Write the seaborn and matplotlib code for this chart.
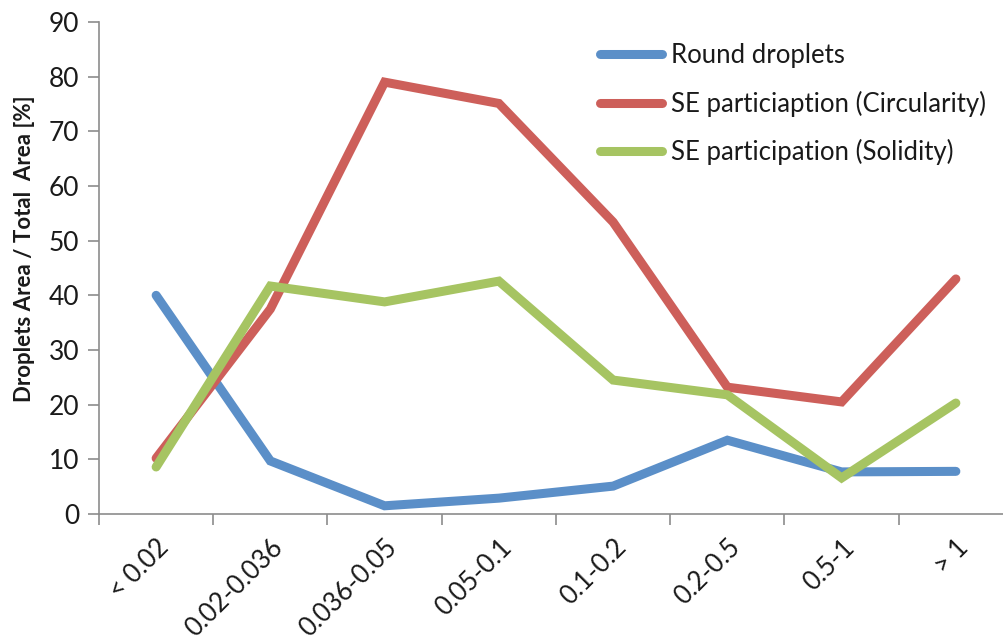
import matplotlib

matplotlib.use("Agg")
import matplotlib.pyplot as plt
import numpy as np
import pandas as pd
import seaborn as sns

# Valores
size_classes = ["< 0.02", "0.02-0.036", "0.036-0.05", "0.05-0.1",
                "0.1-0.2", "0.2-0.5", "0.5-1", "> 1"]
round_droplets = [40.0, 9.7, 1.5, 2.9, 5.1, 13.5, 7.7, 7.8]
se_circularity = [10.2, 37.5, 79.0, 75.1, 53.4, 23.2, 20.5, 43.0]
se_solidity = [8.6, 41.7, 38.8, 42.6, 24.5, 21.8, 6.6, 20.3]

series_names = ["Round droplets", "SE particiaption (Circularity)",
                "SE participation (Solidity)"]
series_colors = ["#5b8fc8", "#cd5f5a", "#a6c462"]

df = pd.DataFrame({
    "size": size_classes * 3,
    "pos": list(range(len(size_classes))) * 3,
    "value": round_droplets + se_circularity + se_solidity,
    "series": np.repeat(series_names, len(size_classes)),
})

sns.set_style("white")
plt.rcParams["font.family"] = ["Lato", "DejaVu Sans"]

W, H = 1004, 639
fig = plt.figure(figsize=(W / 100, H / 100), dpi=100)
ax = fig.add_axes([99 / W, 125 / H, 914 / W, 492 / H])

sns.lineplot(data=df, x="pos", y="value", hue="series", hue_order=series_names,
             palette=series_colors, linewidth=6.5, ax=ax, sort=False,
             solid_capstyle="round", solid_joinstyle="miter")

ax.set_xlim(-0.5, len(size_classes) - 0.5)
ax.set_ylim(0, 90)
ax.set_yticks(range(0, 91, 10))
ax.tick_params(axis="y", labelsize=19, length=8, width=1.2, color="#8c8c8c",
               direction="out", pad=6, left=True, labelcolor="#1a1a1a")
ax.set_xticks(range(len(size_classes)))
ax.set_xticklabels(size_classes, rotation=45, ha="right", rotation_mode="anchor",
                   fontsize=18.5, color="#1a1a1a")
ax.tick_params(axis="x", length=0, pad=15)
ax.set_xticks(np.arange(-0.5, len(size_classes), 1.0), minor=True)
ax.tick_params(axis="x", which="minor", length=8, width=1.2, color="#8c8c8c",
               bottom=True)

for side in ["top", "right"]:
    ax.spines[side].set_visible(False)
for side in ["left", "bottom"]:
    ax.spines[side].set_color("#8c8c8c")
    ax.spines[side].set_linewidth(1.2)

ax.set_xlabel("")
ax.set_ylabel("Droplets Area / Total  Area [%]", fontsize=16, fontweight="bold",
              color="#1a1a1a")
ax.yaxis.set_label_coords(-64 / 914, 0.54)

leg = ax.legend(loc="upper left", bbox_to_anchor=(600 / W, 1 - 43 / H),
                bbox_transform=fig.transFigure, borderaxespad=0, borderpad=0,
                frameon=False, fontsize=18.5, handlelength=2.4,
                handletextpad=0.35, labelspacing=0.88)
for line in leg.get_lines():
    line.set_linewidth(6.5)
for text in leg.get_texts():
    text.set_color("#1a1a1a")

fig.savefig("out.png", dpi=100)
